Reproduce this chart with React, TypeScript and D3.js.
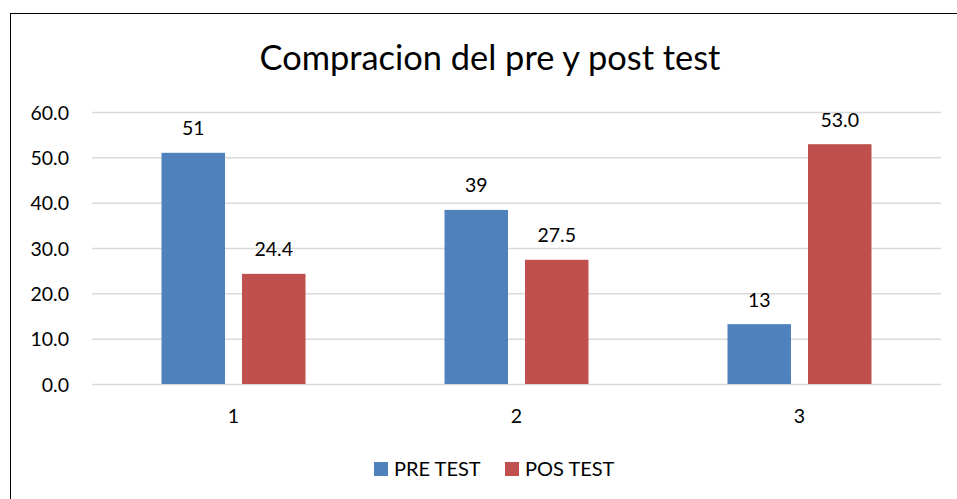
import React from 'react';
import { scaleLinear, scaleBand, range } from 'd3';

const categories = ['1', '2', '3'];
const preTest = [51, 38.4, 13.2];
const posTest = [24.3, 27.4, 52.9];
const preLabels = ['51', '39', '13'];
const posLabels = ['24.4', '27.5', '53.0'];
const yTicks = [0, 10, 20, 30, 40, 50, 60];
const seriesNames = ['PRE TEST', 'POS TEST'];
const colors = ['#4F81BD', '#C0504D'];

const W = 957;
const H = 499;
const font = 'Lato, "Open Sans", sans-serif';

function App() {
  const x = scaleBand().domain(categories).range([92, 941]);
  const y = scaleLinear().domain([0, 60]).range([384, 112]);
  const barW = 63.5;
  const gap = 17;
  const series = [preTest, posTest];
  const labels = [preLabels, posLabels];

  return (
    <svg width={W} height={H} style={{ position: 'absolute', left: 0, top: 0 }}>
      <rect x={0} y={0} width={W} height={H} fill="#fff" />
      <rect x={10.5} y={13.5} width={W + 10} height={H + 10} fill="#fff" stroke="#000" strokeWidth={1} />
      <text x={490} y={70} textAnchor="middle" fontFamily={font} fontSize={34.4} fill="#000">
        Compracion del pre y post test
      </text>
      {yTicks.map((t) => (
        <g key={t}>
          <line x1={92} x2={941} y1={y(t) + 0.5} y2={y(t) + 0.5} stroke="#D9D9D9" strokeWidth={1.5} />
          <text x={69} y={y(t) + 7.5} textAnchor="end" fontFamily={font} fontSize={19.5} fill="#000">
            {t.toFixed(1)}
          </text>
        </g>
      ))}
      {series.map((vals, s) =>
        range(vals.length).map((i) => {
          const cx = (x(categories[i]) as number) + x.bandwidth() / 2;
          const bx = s === 0 ? cx - gap / 2 - barW : cx + gap / 2;
          return (
            <g key={`${s}-${i}`}>
              <rect x={bx} y={y(vals[i])} width={barW} height={y(0) - y(vals[i])} fill={colors[s]} />
              <text x={bx + barW / 2} y={y(vals[i]) - 17.5} textAnchor="middle" fontFamily={font} fontSize={19.5} fill="#000">
                {labels[s][i]}
              </text>
            </g>
          );
        })
      )}
      {categories.map((c) => (
        <text key={c} x={(x(c) as number) + x.bandwidth() / 2} y={423} textAnchor="middle" fontFamily={font} fontSize={19.5} fill="#000">
          {c}
        </text>
      ))}
      {seriesNames.map((n, s) => (
        <g key={n} transform={`translate(${s === 0 ? 374 : 505},462)`}>
          <rect x={0} y={0} width={14} height={14} fill={colors[s]} />
          <text x={20} y={14} fontFamily={font} fontSize={20} fill="#000">
            {n}
          </text>
        </g>
      ))}
    </svg>
  );
}

export default App;
